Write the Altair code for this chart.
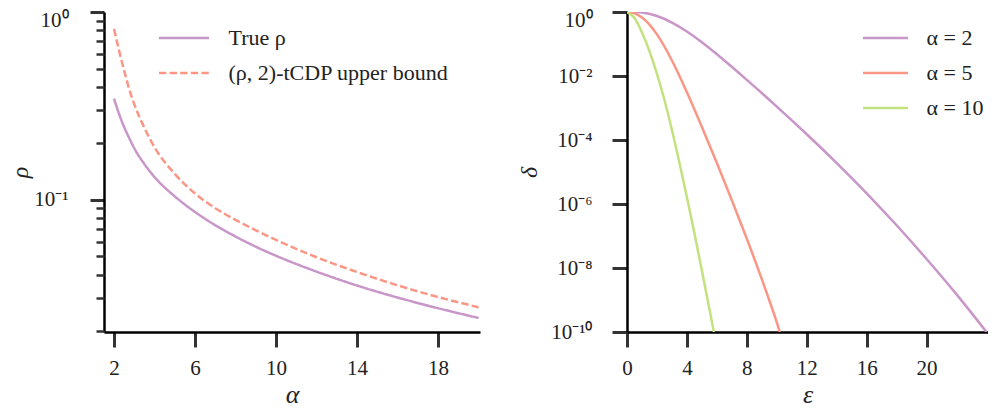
import altair as alt
import pandas as pd

FONT = "Liberation Serif"
TXT = "#222222"

# ---------------- left panel data ----------------
alpha_vals = [2.0, 2.25, 2.5, 2.75, 3.0, 3.5, 4.0, 5.0, 6.0, 7.0, 8.0, 9.0, 10.0, 12.0, 14.0, 16.0, 18.0, 20.0]
rho_true = [0.346, 0.2867, 0.244, 0.2135, 0.1883, 0.1551, 0.1323, 0.1044, 0.0862, 0.0733, 0.0638, 0.0563,
            0.0504, 0.0415, 0.0350, 0.0302, 0.0265, 0.0235]
rho_bound = [0.813, 0.624, 0.488, 0.389, 0.323, 0.242, 0.1905, 0.1376, 0.1082, 0.0903, 0.0783, 0.0689,
             0.0612, 0.0495, 0.0413, 0.0351, 0.0304, 0.0268]
series_left = ["True ρ", "(ρ, 2)-tCDP upper bound"]
colors_left = ["#c896c8", "#fa9686"]
left_x_ticks = [2, 6, 10, 14, 18]
left_major = [0.1, 1.0]
left_minor = [0.02, 0.03, 0.04, 0.05, 0.06, 0.07, 0.08, 0.09, 0.2, 0.3, 0.4, 0.5, 0.6, 0.7, 0.8, 0.9]

# ---------------- right panel data (log10 delta) ----------------
eps_a2 = [0.5, 1.0, 2.0, 3.0, 4.0, 5.0, 6.0, 8.0, 10.0, 12.0, 14.0, 16.0, 18.0, 20.0, 22.0, 24.0]
logd_a2 = [0.0, -0.015, -0.125, -0.33, -0.61, -0.945, -1.32, -2.12, -2.955, -3.82, -4.72, -5.665, -6.665,
           -7.72, -8.825, -10.0]
eps_a5 = [0.0, 0.5, 1.0, 1.5, 2.0, 3.0, 4.0, 5.0, 6.0, 7.0, 8.0, 9.0, 10.0, 10.2]
logd_a5 = [0.0, -0.044, -0.175, -0.394, -0.70, -1.515, -2.51, -3.595, -4.72, -5.88, -7.085, -8.35, -9.70, -10.0]
eps_a10 = [0.0, 0.5, 1.0, 1.5, 2.0, 2.5, 3.0, 3.5, 4.0, 4.5, 5.0, 5.8]
logd_a10 = [0.0, -0.19, -0.64, -1.225, -1.93, -2.75, -3.685, -4.71, -5.79, -6.91, -8.08, -10.0]
series_right = ["α = 2", "α = 5", "α = 10"]
colors_right = ["#c896c8", "#fa9686", "#c3e27f"]
right_x_ticks = [0, 4, 8, 12, 16, 20]
right_major = [1.0, 1e-2, 1e-4, 1e-6, 1e-8, 1e-10]

SUP = str.maketrans("-0123456789", "⁻⁰¹²³⁴⁵⁶⁷⁸⁹")


def label_expr(exps):
    expr = "''"
    for e in exps:
        expr = f"round(log(datum.value)/LN10) == {e} ? '10{str(e).translate(SUP)}' : (" + expr + ")"
    return expr


top_label_offset = {"condition": {"test": "datum.value >= 0.999", "value": 8}, "value": 0}

left_rows = []
for a, t, b in zip(alpha_vals, rho_true, rho_bound):
    left_rows.append({"alpha": a, "rho": t, "series": series_left[0]})
    left_rows.append({"alpha": a, "rho": b, "series": series_left[1]})
left_df = pd.DataFrame(left_rows)

right_rows = []
for name, xs, ys in zip(series_right, [eps_a2, eps_a5, eps_a10], [logd_a2, logd_a5, logd_a10]):
    for x, y in zip(xs, ys):
        right_rows.append({"eps": x, "delta": 10 ** y, "series": name})
right_df = pd.DataFrame(right_rows)

title_kw = dict(titleFont=FONT, titleFontSize=24, titleFontStyle="italic", titleFontWeight="normal", titleColor=TXT)
xtitle_kw = dict(titleFont=FONT, titleFontSize=26, titleFontStyle="italic", titleFontWeight="normal", titleColor=TXT)

PLOT_H = 320
left_ydom = [0.0198, 1.0]
left_legend = alt.Legend(title=None, orient="none", legendX=42, legendY=8.5, symbolType="stroke",
                         symbolSize=2500, symbolStrokeWidth=2.5, symbolOffset=11.5, clipHeight=35,
                         rowPadding=0, padding=0, labelFont=FONT, labelFontSize=22, labelColor=TXT,
                         labelOffset=18, labelLimit=400)

left_lines = alt.Chart(left_df).mark_line(strokeWidth=2.5, clip=True, interpolate="monotone").encode(
    x=alt.X("alpha:Q", scale=alt.Scale(domain=[1.506, 20.07], nice=False, zero=False),
            axis=alt.Axis(values=left_x_ticks, title="α", titlePadding=3, **xtitle_kw)),
    y=alt.Y("rho:Q", scale=alt.Scale(type="log", domain=left_ydom, nice=False),
            axis=alt.Axis(values=left_major, labelExpr=label_expr([0, -1]), tickSize=14, labelPadding=22,
                          labelOffset=top_label_offset, title="ρ", titlePadding=2,
                          minExtent=70, maxExtent=70, **title_kw)),
    color=alt.Color("series:N", scale=alt.Scale(domain=series_left, range=colors_left), legend=left_legend),
    strokeDash=alt.StrokeDash("series:N", scale=alt.Scale(domain=series_left, range=[[1, 0], [7.4, 3.2]]),
                              legend=left_legend),
)

left_minor_layer = alt.Chart(pd.DataFrame({"m": left_minor})).mark_point(opacity=0).encode(
    y=alt.Y("m:Q", scale=alt.Scale(type="log", domain=left_ydom, nice=False),
            axis=alt.Axis(orient="left", values=left_minor, labels=False, tickSize=8, tickWidth=2.5,
                          domain=False, title=None, grid=False)),
)

left = alt.layer(left_lines, left_minor_layer).resolve_scale(y="independent").properties(width=376, height=PLOT_H)

right_legend = alt.Legend(title=None, orient="none", legendX=236, legendY=8.5, symbolType="stroke",
                          symbolSize=2500, symbolStrokeWidth=2.5, symbolOffset=-6.5, clipHeight=35,
                          rowPadding=0, padding=0, labelFont=FONT, labelFontSize=22, labelColor=TXT,
                          labelOffset=17, labelLimit=400)

right = alt.Chart(right_df).mark_line(strokeWidth=2.5, clip=True, interpolate="monotone").encode(
    x=alt.X("eps:Q", scale=alt.Scale(domain=[0, 24.1], nice=False, zero=False),
            axis=alt.Axis(values=right_x_ticks, title="ε", titlePadding=3, **xtitle_kw)),
    y=alt.Y("delta:Q", scale=alt.Scale(type="log", domain=[1e-10, 1.0], nice=False),
            axis=alt.Axis(values=right_major, labelExpr=label_expr([0, -2, -4, -6, -8, -10]), tickSize=15,
                          labelPadding=20, labelOffset=top_label_offset, title="δ", titlePadding=5.3,
                          minExtent=80, maxExtent=80, **title_kw)),
    color=alt.Color("series:N", scale=alt.Scale(domain=series_right, range=colors_right), legend=right_legend),
).properties(width=361, height=PLOT_H)

chart = alt.hconcat(left, right, spacing=37).resolve_scale(color="independent", strokeDash="independent").properties(
    padding={"left": 0, "top": 1, "right": 0, "bottom": 10}
).configure_view(stroke=None).configure_axis(
    domainColor="black", domainWidth=2.5, tickColor="#333333", tickWidth=3, tickSize=15,
    labelFont=FONT, labelFontSize=21, labelColor=TXT, labelPadding=10, labelFlush=False,
    labelOverlap=False, grid=False,
)

chart.save("out.html", embed_options={"renderer": "svg", "actions": False})
